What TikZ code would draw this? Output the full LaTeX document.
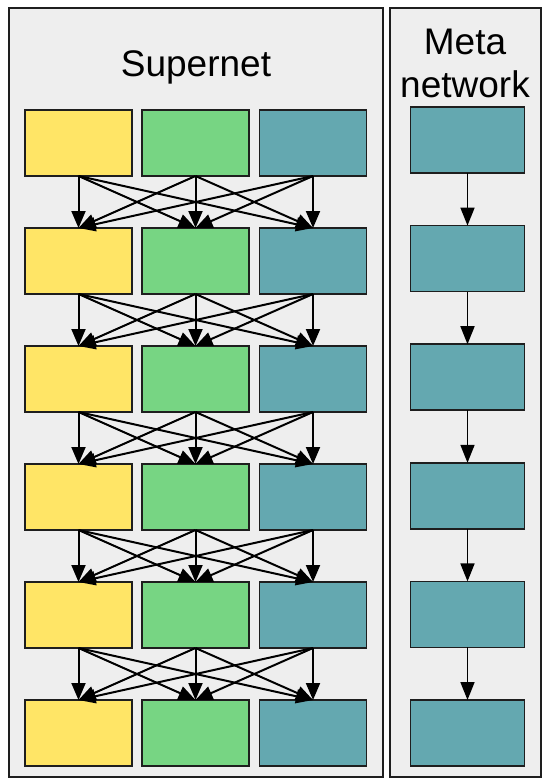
\documentclass[tikz,border=0pt]{standalone}
\usepackage{fontspec}
\setmainfont{Liberation Sans}
\usetikzlibrary{arrows.meta}
\definecolor{cyel}{RGB}{255,229,102}
\definecolor{cgrn}{RGB}{119,213,131}
\definecolor{cteal}{RGB}{100,168,176}
\definecolor{cpanel}{RGB}{238,238,238}
\definecolor{cedge}{RGB}{30,30,30}
\begin{document}
\begin{tikzpicture}[x=1pt,y=-1pt,
  panel/.style={draw=cedge,line width=1.5pt,fill=cpanel},
  blk/.style={draw=cedge,line width=1.5pt,minimum width=107pt,minimum height=66pt,inner sep=0pt,outer sep=0pt},
  mblk/.style={blk,minimum width=114pt,fill=cteal},
  conn/.style={line width=2pt,-{Triangle[length=17pt,width=14pt]}},
  mconn/.style={line width=1.7pt,-{Triangle[length=18pt,width=14pt]}},
  ttl/.style={font=\fontsize{37}{42}\selectfont,align=center,inner sep=0pt}]
\useasboundingbox (0,0) rectangle (544,784);
\draw[panel] (9,8) rectangle (383,777);
\draw[panel] (390,8) rectangle (541,777);
\node[ttl,anchor=base] (t1) at (196,77) {Supernet};
\node[ttl,anchor=base] (t2) at (465,55) {Meta};
\node[ttl,anchor=base] (t3) at (465,97) {network};
\foreach \r/\y in {1/143,2/261,3/379,4/497,5/615,6/733}{
  \node[blk,fill=cyel] (b\r1) at (78.5,\y) {};
  \node[blk,fill=cgrn] (b\r2) at (195.5,\y) {};
  \node[blk,fill=cteal] (b\r3) at (313,\y) {};
}
\foreach \r/\y in {1/140,2/258.6,3/377.2,4/495.8,5/614.4,6/733}{
  \node[mblk] (m\r) at (467.5,\y) {};
}
\foreach \r [evaluate=\r as \n using int(\r+1)] in {1,...,5}{
  \foreach \i in {1,2,3}{
    \foreach \j in {1,2,3}{
      \draw[conn] (b\r\i.south) -- (b\n\j.north);
    }
  }
  \draw[mconn] (m\r.south) -- (m\n.north);
}
\end{tikzpicture}
\end{document}
